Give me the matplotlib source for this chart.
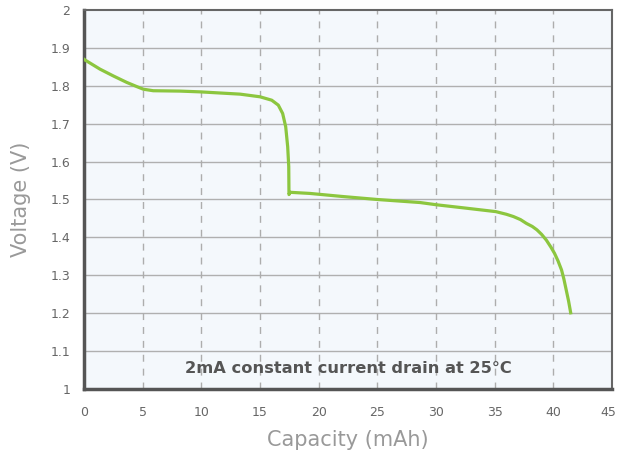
import matplotlib.pyplot as plt
import matplotlib.transforms as mtransforms
import numpy as np

# discharge curve
capacity = [0.0, 0.09, 1.36, 2.5, 3.64, 4.49, 5.06, 5.9, 8.2, 9.9, 13.3, 15.0, 16.0,
            16.56, 16.93, 17.19, 17.36, 17.45, 17.47, 17.56, 19.26, 22.0, 25.0, 28.64,
            30.06, 32.33, 35.1, 36.0, 36.6, 37.2, 37.7, 38.2, 38.6, 39.0, 39.4, 39.8,
            40.1, 40.4, 40.7, 40.9, 41.1, 41.3, 41.48]
voltage = [1.870, 1.868, 1.844, 1.826, 1.809, 1.798, 1.791, 1.787, 1.786, 1.784, 1.778,
           1.771, 1.762, 1.749, 1.727, 1.692, 1.639, 1.587, 1.513, 1.519, 1.516, 1.508,
           1.500, 1.492, 1.486, 1.478, 1.468, 1.461, 1.455, 1.447, 1.437, 1.429, 1.420,
           1.408, 1.393, 1.374, 1.358, 1.338, 1.314, 1.290, 1.261, 1.232, 1.201]

x_ticks = [0, 5, 10, 15, 20, 25, 30, 35, 40, 45]
y_ticks = [1, 1.1, 1.2, 1.3, 1.4, 1.5, 1.6, 1.7, 1.8, 1.9, 2]
y_labels = ["1", "1.1", "1.2", "1.3", "1.4", "1.5", "1.6", "1.7", "1.8", "1.9", "2"]

plt.rcParams['font.family'] = ['DejaVu Sans']

fig = plt.figure(figsize=(6.18, 4.55), dpi=100)
ax = fig.add_axes([84 / 618, 1 - 389 / 455, 528 / 618, 379 / 455])
ax.set_facecolor('#f4f8fc')

ax.plot(capacity, voltage, color='#8cc63f', linewidth=2.3, solid_joinstyle='round', zorder=3)

ax.set_xlim(0, 45)
ax.set_ylim(1, 2)
ax.set_xticks(x_ticks)
ax.set_yticks(y_ticks)
ax.set_yticklabels(y_labels)
ax.tick_params(length=0, labelsize=9, colors='#666666')
ax.tick_params(axis='x', pad=12)
ax.tick_params(axis='y', pad=10)

# last x label sits a bit inside the figure edge
last = ax.get_xticklabels()[-1]
last.set_transform(last.get_transform() + mtransforms.ScaledTranslation(-4 / 100, 0, fig.dpi_scale_trans))

for v in y_ticks[1:-1]:
    ax.axhline(v, color='#b0b0b0', linewidth=1, zorder=1)
for c in x_ticks[1:-1]:
    ax.axvline(c, color='#adadad', linewidth=1, dashes=(5, 5), zorder=1)

for side in ['left', 'bottom']:
    ax.spines[side].set_linewidth(2.5)
    ax.spines[side].set_color('#555555')
for side in ['top', 'right']:
    ax.spines[side].set_linewidth(1.5)
    ax.spines[side].set_color('#666666')

ax.set_xlabel('Capacity (mAh)', fontsize=15, color='#999999', labelpad=8)
ax.set_ylabel('Voltage (V)', fontsize=15, color='#999999', labelpad=14)

ax.text(8.6, 1.055, '2mA constant current drain at 25°C', fontsize=11.7,
        color='#555555', fontweight='bold', va='center', ha='left', zorder=4)

plt.savefig('out.png', dpi=100)
